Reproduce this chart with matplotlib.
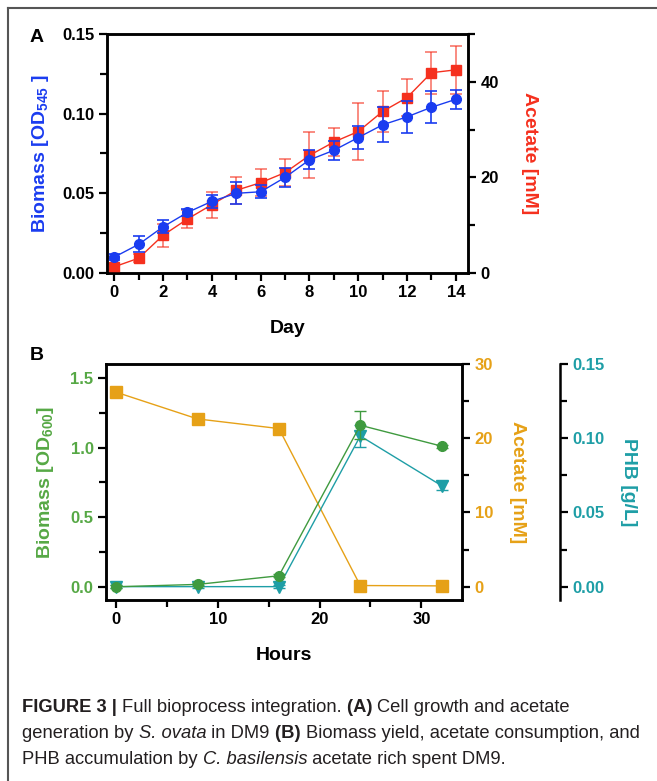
import numpy as np
import matplotlib
matplotlib.use("Agg")
import matplotlib.pyplot as plt
from matplotlib.ticker import FixedLocator, FormatStrFormatter
from matplotlib.lines import Line2D

# ---------------------------------------------------------------
# Datos
# ---------------------------------------------------------------
days = [0, 1, 2, 3, 4, 5, 6, 7, 8, 9, 10, 11, 12, 13, 14]
biomass_a = [0.010, 0.018, 0.029, 0.038, 0.045, 0.050, 0.051, 0.060, 0.071, 0.077,
             0.085, 0.093, 0.098, 0.104, 0.109]
biomass_a_err = [0.002, 0.005, 0.004, 0.002, 0.004, 0.007, 0.004, 0.006, 0.006, 0.006,
                 0.007, 0.011, 0.010, 0.010, 0.006]
acetate_a = [1.3, 3.1, 7.9, 11.3, 14.3, 17.3, 18.9, 21.0, 24.6, 27.4,
             29.6, 33.8, 36.7, 41.9, 42.5]
acetate_a_err = [0.6, 0.8, 2.4, 1.9, 2.7, 2.8, 2.8, 2.9, 4.8, 2.9,
                 6.0, 4.3, 3.8, 4.4, 5.0]

hours = [0, 8, 16, 24, 32]
biomass_b = [0.0, 0.017, 0.079, 1.16, 1.01]
biomass_b_err = [0.01, 0.01, 0.01, 0.10, 0.01]
acetate_b = [26.2, 22.6, 21.3, 0.15, 0.1]
acetate_b_err = [0.7, 0.3, 0.6, 0.1, 0.1]
phb_b = [0.0, 0.0, 0.0, 0.1015, 0.068]
phb_b_err = [0.001, 0.001, 0.001, 0.0075, 0.003]

caption_lines = [
    [("FIGURE 3 | ", "bold", "normal"), ("Full bioprocess integration. ", "normal", "normal"),
     ("(A) ", "bold", "normal"), ("Cell growth and acetate", "normal", "normal")],
    [("generation by ", "normal", "normal"), ("S. ovata", "normal", "italic"),
     (" in DM9 ", "normal", "normal"), ("(B) ", "bold", "normal"),
     ("Biomass yield, acetate consumption, and", "normal", "normal")],
    [("PHB accumulation by ", "normal", "normal"), ("C. basilensis", "normal", "italic"),
     (" acetate rich spent DM9.", "normal", "normal")],
]

# ---------------------------------------------------------------
# Estilo
# ---------------------------------------------------------------
FONT = "Liberation Sans"
plt.rcParams.update({
    "font.family": FONT,
    "font.weight": "bold",
    "axes.labelweight": "bold",
    "mathtext.fontset": "custom",
    "mathtext.rm": FONT + ":bold",
    "mathtext.it": FONT + ":bold:italic",
    "mathtext.bf": FONT + ":bold",
    "mathtext.default": "rm",
    "axes.linewidth": 1.8,
    "xtick.major.width": 1.6, "ytick.major.width": 1.6,
    "xtick.minor.width": 1.6, "ytick.minor.width": 1.6,
    "xtick.major.size": 5.5, "ytick.major.size": 5.5,
    "xtick.minor.size": 5.0, "ytick.minor.size": 5.0,
    "xtick.labelsize": 12, "ytick.labelsize": 12,
})

BLUE = "#1a3cf0"
RED = "#f5301e"
GREEN = "#3f9a3f"
GREEN_T = "#56a845"
ORANGE = "#e6a117"
TEAL = "#1e9ea6"

W, H = 657, 781
fig = plt.figure(figsize=(W / 100, H / 100), dpi=100, facecolor="white")


def frac(left, top, right, bottom):
    return [left / W, 1 - bottom / H, (right - left) / W, (bottom - top) / H]


# ---------------------------------------------------------------
# Panel A
# ---------------------------------------------------------------
axA = fig.add_axes(frac(107, 34, 468, 273))
axA2 = axA.twinx()

axA2.errorbar(days, acetate_a, yerr=acetate_a_err, fmt="none", ecolor=RED, alpha=0.65,
              elinewidth=1.2, capsize=4, capthick=1.2, zorder=2)
axA2.plot(days, acetate_a, "-s", color=RED, markersize=7, linewidth=1.0, zorder=3)
axA2.set_ylim(0, 50)
axA2.yaxis.set_major_locator(FixedLocator([0, 20, 40]))
axA2.yaxis.set_minor_locator(FixedLocator([10, 30, 50]))
axA2.set_ylabel("Acetate [mM]", color=RED, fontsize=14, rotation=270, labelpad=28)

axA.set_zorder(axA2.get_zorder() + 1)
axA.patch.set_visible(False)
axA.errorbar(days, biomass_a, yerr=biomass_a_err, fmt="none", ecolor=BLUE,
             elinewidth=1.2, capsize=4, capthick=1.2, zorder=2)
axA.plot(days, biomass_a, "-o", color=BLUE, markersize=7, linewidth=1.0, zorder=3)
axA.set_xlim(-0.3, 14.5)
axA.set_ylim(0, 0.15)
axA.xaxis.set_major_locator(FixedLocator(range(0, 15, 2)))
axA.xaxis.set_minor_locator(FixedLocator(range(1, 15, 2)))
axA.yaxis.set_major_locator(FixedLocator([0, 0.05, 0.10, 0.15]))
axA.yaxis.set_minor_locator(FixedLocator([0.025, 0.075, 0.125]))
axA.yaxis.set_major_formatter(FormatStrFormatter("%.2f"))
axA.set_xlabel("Day", fontsize=14, labelpad=14)
axA.set_ylabel("Biomass [OD$_{545}$ ]", color=BLUE, fontsize=14, labelpad=8)
fig.text(37 / W, 1 - 37 / H, "A", fontsize=14, fontweight="bold", ha="center", va="center")

# ---------------------------------------------------------------
# Panel B
# ---------------------------------------------------------------
axB = fig.add_axes(frac(106, 364, 462, 600))
axB2 = axB.twinx()
axB3 = axB.twinx()

axB2.errorbar(hours, acetate_b, yerr=acetate_b_err, fmt="-s", color=ORANGE, markersize=8,
              linewidth=1.0, elinewidth=1.0, capsize=4, zorder=2)
axB2.set_ylim(-1.8, 30)
axB2.yaxis.set_major_locator(FixedLocator([0, 10, 20, 30]))
axB2.yaxis.set_minor_locator(FixedLocator([5, 15, 25]))
axB2.tick_params(axis="y", labelcolor=ORANGE)
axB2.set_ylabel("Acetate [mM]", color=ORANGE, fontsize=14, rotation=270, labelpad=24)

axB3.spines["right"].set_position(("axes", (560 - 106) / 356))
axB3.spines["right"].set_linewidth(1.8)
for s in ["top", "left", "bottom"]:
    axB3.spines[s].set_visible(False)
axB3.errorbar(hours, phb_b, yerr=phb_b_err, fmt="-v", color=TEAL, markersize=8,
              linewidth=1.0, elinewidth=1.0, capsize=4, zorder=3)
axB3.set_ylim(-0.009, 0.15)
axB3.yaxis.set_major_locator(FixedLocator([0, 0.05, 0.10, 0.15]))
axB3.yaxis.set_minor_locator(FixedLocator([0.025, 0.075, 0.125]))
axB3.yaxis.set_major_formatter(FormatStrFormatter("%.2f"))
axB3.tick_params(axis="y", labelcolor=TEAL)
axB3.set_ylabel("PHB [g/L]", color=TEAL, fontsize=14, rotation=270, labelpad=23)

axB.set_zorder(axB3.get_zorder() + 1)
axB.patch.set_visible(False)
axB.errorbar(hours, biomass_b, yerr=biomass_b_err, fmt="-o", color=GREEN, markersize=7,
             linewidth=1.0, elinewidth=1.0, capsize=4, zorder=3)
axB.set_xlim(-1, 34)
axB.set_ylim(-0.095, 1.6)
axB.xaxis.set_major_locator(FixedLocator([0, 10, 20, 30]))
axB.xaxis.set_minor_locator(FixedLocator([5, 15, 25]))
axB.yaxis.set_major_locator(FixedLocator([0, 0.5, 1.0, 1.5]))
axB.yaxis.set_minor_locator(FixedLocator([0.25, 0.75, 1.25]))
axB.yaxis.set_major_formatter(FormatStrFormatter("%.1f"))
axB.tick_params(axis="y", labelcolor=GREEN_T)
axB.set_xlabel("Hours", fontsize=14, labelpad=14)
axB.set_ylabel("Biomass [OD$_{600}$]", color=GREEN_T, fontsize=14, labelpad=10)
fig.text(37 / W, 1 - 355 / H, "B", fontsize=14, fontweight="bold", ha="center", va="center")

# ---------------------------------------------------------------
# Marco y leyenda de la figura
# ---------------------------------------------------------------
fig.add_artist(Line2D([8 / W, 1], [1 - 8 / H, 1 - 8 / H], color="#555555", linewidth=1.5))
fig.add_artist(Line2D([8 / W, 8 / W], [1 - 8 / H, 0], color="#555555", linewidth=1.5))

renderer = fig.canvas.get_renderer()
line_y = [708, 734, 759]
for parts, yy in zip(caption_lines, line_y):
    x = 22 / W
    for txt, weight, style in parts:
        t = fig.text(x, 1 - yy / H, txt, fontsize=13.2, fontweight=weight, fontstyle=style,
                     color="#231f20", va="center", ha="left")
        bb = t.get_window_extent(renderer)
        x += bb.width / W

fig.savefig("out.png", dpi=100, facecolor="white")
